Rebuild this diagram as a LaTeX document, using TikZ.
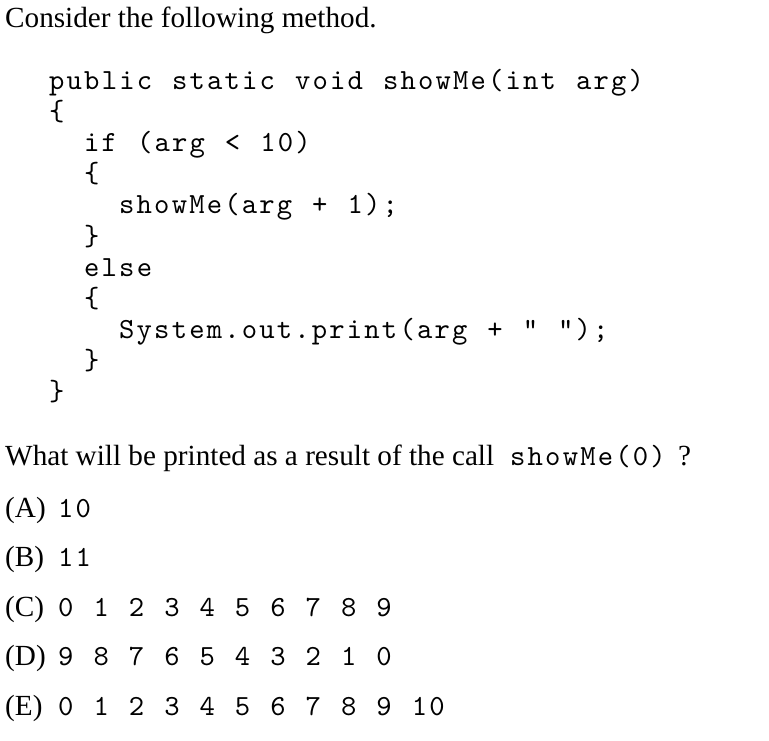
\documentclass[tikz,border=0pt]{standalone}
\usepackage{fontspec}
\setmainfont{Liberation Serif}
\setmonofont{lmmono10-regular.otf}[LetterSpace=7.5,WordSpace=1.143]
\begin{document}
\begin{tikzpicture}[x=1pt,y=-1pt,
  txt/.style={anchor=base west,inner sep=0pt,font=\fontsize{29.2}{35}\selectfont},
  code/.style={txt,font=\fontsize{29.2}{35}\selectfont\ttfamily}]
\useasboundingbox (0,0) rectangle (769,741);
\node[txt] (intro) at (5,28) {Consider the following method.};
% the method, one line each
\node[code] (head) at (49,90) {public static void showMe(int arg)};
\node[code] (open) at (49,121) {\{};
\node[code] (test) at (84,152) {if (arg < 10)};
\node[code] (ifopen) at (84,183) {\{};
\node[code] (recur) at (119,214) {showMe(arg + 1);};
\node[code] (ifclose) at (84,245) {\}};
\node[code] (other) at (84,276) {else};
\node[code] (elopen) at (84,307) {\{};
\node[code] (print) at (119,338) {System.out.print(arg + " ");};
\node[code] (elclose) at (84,369) {\}};
\node[code] (close) at (49,400) {\}};
% question and choices
\node[txt] (ask) at (5,465) {What will be printed as a result of the call};
\node[code] (askcall) at (510,465) {showMe(0)};
\node[txt] (askmark) at (678,465) {?};
\foreach \lab/\ans [count=\i] in {A/10,B/11,C/0 1 2 3 4 5 6 7 8 9,D/9 8 7 6 5 4 3 2 1 0,E/0 1 2 3 4 5 6 7 8 9 10}{
  \node[txt] (opt\lab) at (5,517+49.5*\i-49.5) {(\lab)};
  \node[code] (ans\lab) at (58,517+49.5*\i-49.5) {\ans};
}
\end{tikzpicture}
\end{document}
